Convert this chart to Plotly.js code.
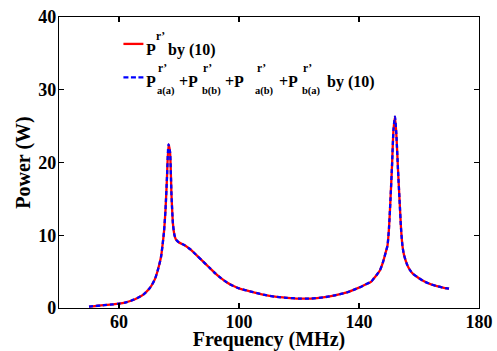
<!DOCTYPE html>
<html><head><meta charset="utf-8">
<script src="https://cdn.plot.ly/plotly-3.0.1.min.js"></script>
<style>html,body{margin:0;padding:0;background:#fff}#chart{width:497px;height:351px}</style>
</head><body><div id="chart"></div>
<script>
const freq = [50,52,54,56,58,60,62,64,66,68,70,71,72,73,74,74.5,75,75.5,76,76.5,77,77.5,78,78.5,79,80,81,82,83,84,85,86,88,90,92,94,96,98,100,104,108,112,116,120,124,128,132,136,140,142,144,145,146,147,148,149,149.5,150,150.5,151,151.5,152,152.5,153,153.5,154,154.5,155,156,157,158,160,162,164,166,168,170];
const powerTotal = [0.2,0.27,0.35,0.42,0.5,0.6,0.75,1.0,1.35,1.8,2.6,3.2,4.0,5.3,7.0,8.6,10.5,13.5,18.0,22.5,21.5,15.5,11.5,10.0,9.4,9.0,8.8,8.6,8.3,8.0,7.6,7.2,6.4,5.6,4.8,4.1,3.5,3.05,2.7,2.25,1.85,1.55,1.4,1.3,1.3,1.45,1.75,2.15,2.8,3.2,3.6,4.1,4.6,5.2,6.3,7.8,8.6,11.0,15.0,19.5,24.5,26.3,23.5,19.0,15.0,11.0,8.5,7.3,6.0,5.2,4.7,4.1,3.6,3.25,3.0,2.8,2.65];
const powerSum = powerTotal.slice();
const xTicks = [60,100,140,180];
const yTicks = [0,10,20,30,40];
const seriesNames = ["P r’ by (10)", "P r’ a(a) + P r’ b(b) + P r’ a(b) + P r’ b(a) by (10)"];
const legendSubs = ["a(a)","b(b)","a(b)","b(a)"];

const font = "Liberation Serif, Times New Roman, serif";
const W = 497, H = 351, M = {l:58.5, r:18, t:16.5, b:42.5};
const pw = W - M.l - M.r, ph = H - M.t - M.b;
const px = v => (v - M.l) / pw;
const py = v => (H - M.b - v) / ph;

const traces = [
  {x: freq, y: powerTotal, type:'scatter', mode:'lines', name:seriesNames[0], showlegend:false, line:{color:'#ff0000', width:2.3, shape:'spline', smoothing:0.6}},
  {x: freq, y: powerSum, type:'scatter', mode:'lines', name:seriesNames[1], showlegend:false, line:{color:'#0000ff', width:2.3, dash:'4px,3px', shape:'spline', smoothing:0.6}}
];

// manual legend (text pieces so that sub/superscripts stack like the original)
const ann = [];
function t(text, x, yc, size){
  ann.push({text:text, xref:'paper', yref:'paper', x:px(x), y:py(yc), xanchor:'left', yanchor:'middle',
    showarrow:false, borderpad:0, borderwidth:0, font:{family:font, size:size, color:'#000', weight:'bold'}});
}
const mainSize = 16, smallSize = 11.5;
t('P', 146, 49.5, mainSize);
t('r’', 155.5, 36, smallSize);
t('by (10)', 167.5, 49.5, mainSize);
const pX = [146, 178.5, 225, 278.5];
const supX = [157.5, 203, 256.5, 303];
const subX = [156.5, 202, 255, 301.5];
for (let i = 0; i < 4; i++) {
  t(i === 0 ? 'P' : '+P', pX[i], 81.5, mainSize);
  t('r’', supX[i], 68, smallSize);
  t(legendSubs[i], subX[i], 91, smallSize - 1);
}
t('by (10)', 327, 81.5, mainSize);

const shapes = [
  {type:'line', xref:'paper', yref:'paper', x0:px(123), x1:px(143), y0:py(43.5), y1:py(43.5), line:{color:'#ff0000', width:2.3}},
  {type:'line', xref:'paper', yref:'paper', x0:px(123), x1:px(143), y0:py(77), y1:py(77), line:{color:'#0000ff', width:2.3, dash:'5px,2.5px'}}
];

const axisCommon = {showgrid:false, zeroline:false, showline:true, linecolor:'#000', linewidth:1.2, mirror:'ticks', ticks:'inside', ticklen:5, tickcolor:'#000', tickwidth:1.2, tickfont:{family:font, size:18, color:'#000', weight:'bold'}};
const layout = {
  width:W, height:H,
  margin:M,
  paper_bgcolor:'#fff', plot_bgcolor:'#fff',
  font:{family:font, color:'#000'},
  xaxis: Object.assign({}, axisCommon, {range:[40,180], tickvals:xTicks, ticktext:xTicks.map(String), ticklabelstandoff:-3,
    title:{text:'<b>Frequency (MHz)</b>', font:{family:font, size:20, color:'#000'}, standoff:7}}),
  yaxis: Object.assign({}, axisCommon, {range:[0,40], tickvals:yTicks, ticktext:yTicks.map(String), ticklabelstandoff:-2,
    title:{text:'<b>Power (W)</b>', font:{family:font, size:20, color:'#000'}, standoff:2}}),
  showlegend:false,
  annotations: ann,
  shapes: shapes
};
Plotly.newPlot('chart', traces, layout, {staticPlot:true, displayModeBar:false});
</script></body></html>
